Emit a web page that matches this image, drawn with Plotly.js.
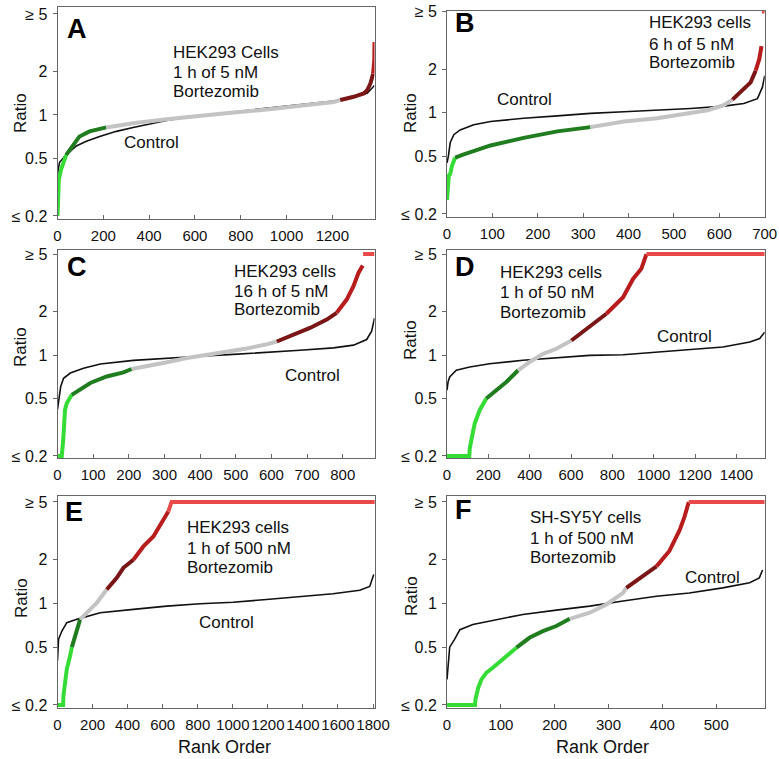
<!DOCTYPE html>
<html>
<head>
<meta charset="utf-8">
<script src="https://cdn.plot.ly/plotly-3.0.1.min.js"></script>
<style>html,body{margin:0;padding:0;background:#fff;}#chart{width:779px;height:759px;}</style>
</head>
<body>
<div id="chart"></div>
<script>
// ---------------- DATA ----------------
// Panel A: HEK293, 1 h of 5 nM
const rankTreatedA  = [0, 1, 2, 3, 5, 6, 16, 38, 60, 96, 140, 213, 330, 476, 622, 768, 914, 1060, 1206, 1235, 1293, 1337, 1352, 1366, 1378, 1383, 1384];
const ratioTreatedA = [0.2, 0.23, 0.28, 0.30, 0.33, 0.36, 0.42, 0.53, 0.59, 0.71, 0.77, 0.82, 0.877, 0.934, 0.99, 1.04, 1.09, 1.15, 1.23, 1.27, 1.335, 1.41, 1.48, 1.65, 1.93, 2.38, 3.2];
const rankControlA  = [0, 3, 9, 38, 82, 126, 184, 257, 330, 476, 622, 768, 914, 1060, 1206, 1279, 1352, 1384];
const ratioControlA = [0.36, 0.42, 0.47, 0.53, 0.61, 0.657, 0.71, 0.77, 0.82, 0.915, 0.99, 1.05, 1.105, 1.17, 1.25, 1.32, 1.41, 1.6];

// Panel B: HEK293, 6 h of 5 nM
const rankTreatedB  = [0, 2, 4, 7, 11, 18, 37, 96, 169, 243, 316, 331, 390, 463, 537, 574, 610, 629, 647, 669, 680, 688, 693, null, 694, 700];
const ratioTreatedB = [0.25, 0.29, 0.368, 0.377, 0.43, 0.49, 0.516, 0.594, 0.67, 0.743, 0.795, 0.81, 0.87, 0.915, 0.99, 1.04, 1.127, 1.23, 1.39, 1.62, 1.95, 2.34, 2.88, null, 5, 5];
const rankControlB  = [0, 3, 7, 15, 29, 59, 96, 169, 243, 316, 390, 463, 537, 610, 654, 684, 695, 700];
const ratioControlB = [0.45, 0.5, 0.62, 0.705, 0.76, 0.825, 0.869, 0.915, 0.95, 0.99, 1.016, 1.04, 1.07, 1.11, 1.157, 1.25, 1.5, 1.8];

// Panel C: HEK293, 16 h of 5 nM
const rankTreatedC  = [0, 12, 16, 21, 26, 40, 54, 92, 138, 185, 208, 260, 307, 363, 419, 475, 531, 587, 615, 662, 708, 755, 783, 811, 830, 844, 856, null, 857, 889];
const ratioTreatedC = [0.2, 0.2, 0.258, 0.417, 0.464, 0.53, 0.56, 0.64, 0.71, 0.758, 0.8, 0.843, 0.89, 0.953, 1.0, 1.055, 1.11, 1.186, 1.24, 1.38, 1.54, 1.76, 1.96, 2.42, 3.0, 3.7, 4.17, null, 5, 5];
const rankControlC  = [0, 6, 9, 17, 36, 73, 120, 213, 307, 400, 493, 587, 680, 774, 830, 867, 881, 889];
const ratioControlC = [0.42, 0.52, 0.605, 0.69, 0.75, 0.81, 0.866, 0.918, 0.953, 0.98, 1.01, 1.04, 1.08, 1.12, 1.17, 1.28, 1.46, 1.8];

// Panel D: HEK293, 1 h of 50 nM
const rankTreatedD  = [0, 108, 110, 118, 134, 158, 190, 239, 287, 344, 400, 465, 529, 602, 690, 771, 852, 900, 940, 965, 1537];
const ratioTreatedD = [0.2, 0.2, 0.226, 0.265, 0.336, 0.415, 0.5, 0.57, 0.65, 0.784, 0.895, 1.02, 1.105, 1.26, 1.56, 1.93, 2.51, 3.36, 3.95, 5, 5];
const rankControlD  = [0, 5, 13, 45, 110, 206, 368, 529, 690, 852, 1013, 1174, 1335, 1465, 1513, 1537];
const ratioControlD = [0.57, 0.65, 0.705, 0.784, 0.826, 0.87, 0.919, 0.958, 0.995, 1.005, 1.05, 1.094, 1.135, 1.23, 1.3, 1.44];

// Panel E: HEK293, 1 h of 500 nM
const rankTreatedE  = [0, 32, 34, 44, 53, 72, 82, 101, 129, 186, 224, 281, 338, 376, 433, 490, 547, 604, 632, 651, 1810];
const ratioTreatedE = [0.2, 0.2, 0.232, 0.302, 0.353, 0.436, 0.5, 0.6, 0.777, 0.91, 1.01, 1.247, 1.5, 1.76, 2.0, 2.47, 2.89, 3.76, 4.3, 5, 5];
const rankControlE  = [0, 6, 25, 53, 110, 243, 433, 623, 813, 1002, 1192, 1382, 1572, 1724, 1781, 1804];
const ratioControlE = [0.403, 0.567, 0.646, 0.737, 0.777, 0.863, 0.91, 0.959, 0.995, 1.02, 1.065, 1.11, 1.165, 1.234, 1.31, 1.58];

// Panel F: SH-SY5Y, 1 h of 500 nM
const rankTreatedF  = [0, 52, 53, 58, 64, 73, 85, 104, 129, 153, 178, 203, 228, 265, 296, 327, 333, 358, 389, 413, 432, 441, 449, 590];
const ratioTreatedF = [0.2, 0.2, 0.22, 0.263, 0.3, 0.333, 0.361, 0.412, 0.496, 0.58, 0.645, 0.699, 0.784, 0.863, 0.984, 1.184, 1.28, 1.5, 1.8, 2.3, 3.2, 3.95, 5, 5];
const rankControlF  = [0, 2, 5, 14, 24, 48, 79, 141, 203, 265, 327, 389, 450, 512, 562, 580, 586];
const ratioControlF = [0.3, 0.36, 0.5, 0.565, 0.66, 0.717, 0.756, 0.84, 0.9, 0.958, 1.04, 1.12, 1.18, 1.28, 1.39, 1.5, 1.7];

// Tick labels
const yTickValues = [0.2, 0.5, 1, 2, 5];
const yTickLabels = ['\u2264 0.2', '0.5', '1', '2', '\u2265 5'];

const panelLetters = ['A', 'B', 'C', 'D', 'E', 'F'];
const conditionTexts = [
  ['HEK293 Cells', '1 h of 5 nM', 'Bortezomib'],
  ['HEK293 cells', '6 h of 5 nM', 'Bortezomib'],
  ['HEK293 cells', '16 h of 5 nM', 'Bortezomib'],
  ['HEK293 cells', '1 h of 50 nM', 'Bortezomib'],
  ['HEK293 cells', '1 h of 500 nM', 'Bortezomib'],
  ['SH-SY5Y cells', '1 h of 500 nM', 'Bortezomib']
];
const xMax = [1384, 700, 889, 1537, 1810, 590];
const xDtick = [200, 100, 100, 200, 200, 100];

// ---------------- LAYOUT / STYLE ----------------
const W = 779, H = 759;
const FONT = 'Liberation Sans, Arial, Helvetica, sans-serif';
const treated = [[rankTreatedA, ratioTreatedA],[rankTreatedB, ratioTreatedB],[rankTreatedC, ratioTreatedC],
                 [rankTreatedD, ratioTreatedD],[rankTreatedE, ratioTreatedE],[rankTreatedF, ratioTreatedF]];
const control = [[rankControlA, ratioControlA],[rankControlB, ratioControlB],[rankControlC, ratioControlC],
                 [rankControlD, ratioControlD],[rankControlE, ratioControlE],[rankControlF, ratioControlF]];

// pixel boxes [left, right, top, bottom]
const boxes = [[57.5, 374.5, 7, 219],[447, 764.7, 11, 217],[57.5, 374.5, 250, 458],
               [447, 764.7, 250, 458],[57.5, 374.8, 496, 708],[447, 764.7, 496, 708]];
const yRanges = [[-0.72, 0.747],[-0.72, 0.702],[-0.713, 0.727],[-0.713, 0.727],[-0.72, 0.74],[-0.72, 0.74]];

const palette = ['#36dc36', '#1f7d1f', '#c3c3c3', '#7a1616', '#b81d1d', '#e84a4a'];
function cls(v){
  if (v <= 0.5) return 0;
  if (v < 0.8) return 1;
  if (v <= 1.26) return 2;
  if (v < 2) return 3;
  if (v < 4.5) return 4;
  return 5;
}

const traces = [];
for (let p = 0; p < 6; p++) {
  const xa = p === 0 ? 'x' : 'x' + (p + 1);
  const ya = p === 0 ? 'y' : 'y' + (p + 1);
  // control
  traces.push({x: control[p][0], y: control[p][1], xaxis: xa, yaxis: ya, mode: 'lines',
               line: {color: '#111', width: 1.6}, hoverinfo: 'skip', showlegend: false});
  // treated, split into coloured runs
  const xs = treated[p][0], ys = treated[p][1];
  let cur = null, run = null;
  const flush = () => { if (run && run.x.length > 1) traces.push(run); };
  for (let i = 0; i < xs.length - 1; i++) {
    if (ys[i] === null || ys[i+1] === null) { flush(); run = null; cur = null; continue; }
    const c = cls(Math.sqrt(ys[i] * ys[i+1]));
    if (c !== cur) {
      flush();
      cur = c;
      run = {x: [xs[i]], y: [ys[i]], xaxis: xa, yaxis: ya, mode: 'lines',
             line: {color: palette[c], width: 4}, hoverinfo: 'skip', showlegend: false};
    }
    run.x.push(xs[i+1]); run.y.push(ys[i+1]);
  }
  flush();
}

const layout = {
  width: W, height: H, margin: {l: 0, r: 0, t: 0, b: 0},
  paper_bgcolor: '#fff', plot_bgcolor: '#fff', showlegend: false,
  font: {family: FONT, size: 16, color: '#111'},
  shapes: [], annotations: []
};

const px = v => v / W, py = v => 1 - v / H;

for (let p = 0; p < 6; p++) {
  const b = boxes[p];
  const xk = p === 0 ? 'xaxis' : 'xaxis' + (p + 1);
  const yk = p === 0 ? 'yaxis' : 'yaxis' + (p + 1);
  const xa = p === 0 ? 'x' : 'x' + (p + 1);
  const ya = p === 0 ? 'y' : 'y' + (p + 1);
  layout[xk] = {
    domain: [px(b[0]), px(b[1])], anchor: ya, range: [0, xMax[p]],
    tick0: 0, dtick: xDtick[p], ticks: 'inside', ticklen: 4, tickcolor: '#666',
    showline: true, mirror: true, linecolor: '#666', linewidth: 1, tickangle: 0,
    showgrid: false, zeroline: false, tickfont: {family: FONT, size: 15, color: '#111'},
    ticklabelstandoff: 3
  };
  layout[yk] = {
    domain: [py(b[3]), py(b[2])], anchor: xa, type: 'log', range: yRanges[p],
    tickvals: yTickValues, ticktext: yTickLabels, ticks: 'outside', ticklen: 4, tickcolor: '#666',
    showline: true, mirror: true, linecolor: '#666', linewidth: 1,
    showgrid: false, zeroline: false, tickfont: {family: FONT, size: 16, color: '#111'},
    ticklabelstandoff: 2
  };
  layout.shapes.push({type: 'line', xref: xa + ' domain', x0: 0, x1: 1, yref: ya, y0: 0, y1: 0,
                      line: {color: '#333', width: 1}, layer: 'below'});
}

function ann(text, x, y, opts) {
  layout.annotations.push(Object.assign({
    text: text, xref: 'paper', yref: 'paper', x: px(x), y: py(y),
    xanchor: 'left', yanchor: 'middle', showarrow: false,
    font: {family: FONT, size: 17, color: '#111'}
  }, opts || {}));
}

// panel letters
const letterPos = [[65, 29],[453, 23],[65, 267],[453, 267],[63, 512],[453, 510]];
panelLetters.forEach((L, i) => ann('<b>' + L + '</b>', letterPos[i][0], letterPos[i][1], {font: {family: FONT, size: 27, color: '#000'}}));

// condition texts (one annotation per line)
const condPos = [[171, [52, 72, 91]], [647, [23, 45, 63]], [232, [271, 291, 310]],
                 [498, [272, 292, 312]], [185, [527, 548, 567]], [528, [517, 538, 557]]];
conditionTexts.forEach((lines, i) => lines.forEach((t, j) => ann(t, condPos[i][0], condPos[i][1][j])));

// "Control" labels
const controlPos = [[122, 142], [495, 99], [283, 375], [655, 336], [197, 622], [683, 577]];
controlPos.forEach(c => ann('Control', c[0], c[1]));

// "Ratio" axis titles
const ratioPos = [[21, 113], [411, 113], [21, 347], [411, 340], [21, 598], [411, 596]];
ratioPos.forEach(c => ann('Ratio', c[0], c[1], {xanchor: 'center', textangle: -90, font: {family: FONT, size: 17, color: '#111'}}));

// "Rank Order" titles
ann('Rank Order', 225, 747, {xanchor: 'center', font: {family: FONT, size: 18, color: '#111'}});
ann('Rank Order', 602, 747, {xanchor: 'center', font: {family: FONT, size: 18, color: '#111'}});

Plotly.newPlot('chart', traces, layout, {displayModeBar: false, staticPlot: true});
</script>
</body>
</html>
